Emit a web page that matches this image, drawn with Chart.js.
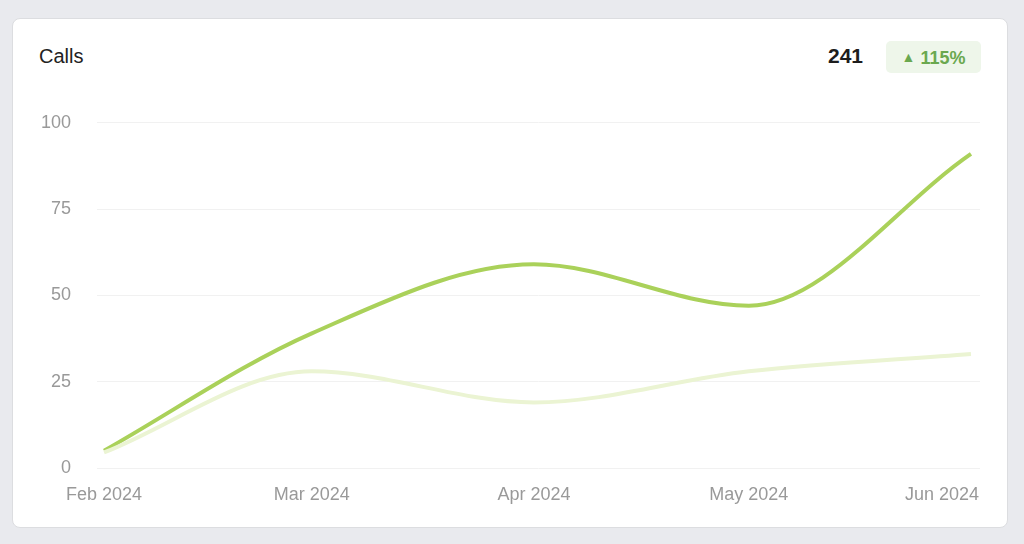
<!DOCTYPE html>
<html><head><meta charset="utf-8">
<script src="https://cdn.jsdelivr.net/npm/chart.js@4.4.1/dist/chart.umd.min.js"></script>
<style>
body{margin:0;background:#e9eaee;font-family:"Liberation Sans",Arial,sans-serif;width:1024px;height:544px;overflow:hidden}
.card{position:absolute;left:12px;top:18px;width:994px;height:508px;background:#fff;border:1px solid #dcdde0;border-radius:8px}
.title{position:absolute;left:39px;top:45px;font-size:20px;color:#222}
.total{position:absolute;left:828px;top:44px;font-size:21px;font-weight:bold;color:#1d1d1d}
.badge{position:absolute;left:886px;top:41px;width:95px;height:32px;background:#eef6ea;border-radius:5px;color:#6aa84f;font-weight:bold;font-size:18px;line-height:32px;text-align:center}
.wrap{position:absolute;left:20px;top:86px;width:975px;height:429px}
</style></head><body>
<div class="card"></div>
<div class="title">Calls</div>
<div class="total">241</div>
<div class="badge"><span style="font-size:14px;vertical-align:2px">&#9650;</span> 115%</div>
<div class="wrap"><canvas id="c"></canvas></div>
<script>
const categories=["Feb 2024","Mar 2024","Apr 2024","May 2024","Jun 2024"];
const dayOffsets=[0,29,60,90,121];
const currentCalls=[5,39,59,47,91];
const previousCalls=[4.5,28,19,28,33];
const yTicks=[0,25,50,75,100];

const xLabels={id:'xl',afterDraw(ch){const c=ch.ctx,s=ch.scales.x;c.save();c.font='18px "Liberation Sans", Arial';c.fillStyle='#999999';c.textBaseline='middle';
dayOffsets.forEach((d,i)=>{const last=i===dayOffsets.length-1;const x=s.getPixelForValue(d);c.textAlign=last?'right':'center';c.fillText(categories[i],last?x+8:x,ch.chartArea.bottom+27);});c.restore();}};

new Chart(document.getElementById('c'),{type:'line',
data:{datasets:[
{data:dayOffsets.map((d,i)=>({x:d,y:previousCalls[i]})),borderColor:'#ebf4d3',borderWidth:4,pointRadius:0,cubicInterpolationMode:'monotone'},
{data:dayOffsets.map((d,i)=>({x:d,y:currentCalls[i]})),borderColor:'#aad15a',borderWidth:4,pointRadius:0,cubicInterpolationMode:'monotone'}]},
options:{responsive:true,maintainAspectRatio:false,animation:false,layout:{padding:{top:0,right:15}},
plugins:{legend:{display:false},tooltip:{enabled:false}},
scales:{x:{type:'linear',min:-0.98,max:122.26,ticks:{display:false},grid:{display:false},border:{display:false},afterFit(s){s.height=47;}},
y:{min:0,max:100,afterBuildTicks(s){s.ticks=yTicks.map(v=>({value:v}));},ticks:{color:'#999999',font:{size:18,family:'"Liberation Sans", Arial'},padding:26},grid:{color:'#f1f1f1',drawTicks:false},border:{display:false},afterFit(s){s.width=77;}}}},
plugins:[xLabels]});
</script></body></html>
